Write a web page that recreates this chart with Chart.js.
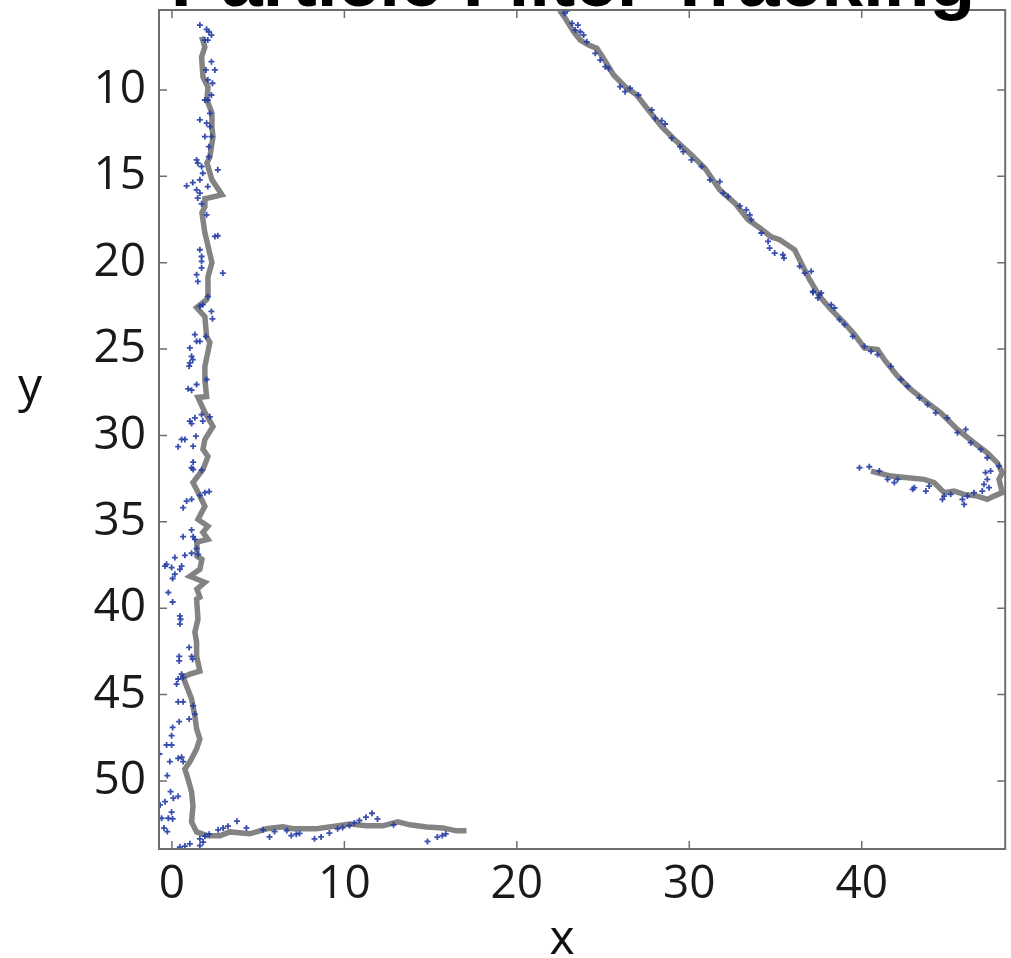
<!DOCTYPE html>
<html>
<head>
<meta charset="utf-8">
<script src="https://cdn.jsdelivr.net/npm/chart.js@4.4.1/dist/chart.umd.min.js"></script>
<style>
  body { margin: 0; background: #fff; }
  #wrap { width: 1011px; height: 958px; position: relative; }
</style>
</head>
<body>
<div id="wrap"><canvas id="myChart"></canvas></div>
<script>
// tick labels
const xTicks = [0, 10, 20, 30, 40];
const yTicks = [10, 15, 20, 25, 30, 35, 40, 45, 50];

// estimated track, left "L" shape
const leftTrackX = [1.72, 1.91, 1.72, 1.80, 2.09, 2.03, 2.32, 2.32, 2.38, 2.20, 2.03, 2.32, 2.90, 1.91, 1.91, 1.74, 1.91, 2.32, 2.09, 2.09,
  2.01, 1.43, 1.91, 2.01, 2.20, 1.91, 1.91, 2.01, 1.51, 1.91, 2.38, 1.91, 1.80, 2.09, 1.80, 1.22, 1.51, 1.91, 1.51, 2.09,
  1.80, 2.09, 1.45, 1.45, 1.74, 1.62, 1.04, 1.91, 1.45, 1.62,
  1.43, 1.51, 1.33, 1.43, 1.43, 1.62, 1.04, 0.64, 0.85, 1.14, 1.33, 1.43, 1.62, 1.43, 1.04, 0.75, 0.93, 1.14, 1.22, 1.14,
  1.43, 2.09, 2.78, 3.36, 4.52, 5.49, 6.43, 7.01, 8.39, 9.55, 10.32, 11.29, 12.23, 13.10, 13.80, 14.77, 15.71, 16.50, 17.08];
const leftTrackY = [6.92, 7.51, 8.09, 9.25, 9.83, 10.58, 11.33, 12.14, 12.72, 13.87, 14.22, 15.20, 16.07, 16.30, 16.76, 17.11, 18.27, 20.0, 20.81, 21.97,
  22.14, 22.60, 23.12, 24.28, 24.62, 26.01, 26.76, 27.75, 27.80, 28.67, 29.48, 30.23, 30.81, 31.21, 31.97, 32.72, 33.29, 34.10, 34.86, 35.26,
  35.61, 36.01, 36.18, 36.99, 37.17, 37.75, 38.15, 38.50, 38.90, 39.36,
  39.48, 40.64, 41.39, 41.97, 42.77, 43.64, 43.82, 43.99, 44.51, 45.26, 46.24, 46.99, 47.57, 48.15, 48.90, 49.31, 49.88, 50.64, 51.45, 52.37,
  52.95, 53.18, 53.18, 52.95, 53.06, 52.77, 52.66, 52.77, 52.77, 52.60, 52.49, 52.60, 52.60, 52.37, 52.54, 52.66, 52.72, 52.89, 52.89];

// estimated track, diagonal + return
const diagTrackX = [22.47, 22.82, 23.29, 23.68, 24.16, 24.64, 25.03, 25.61, 26.28, 26.95, 27.63, 28.40, 29.17, 30.13, 30.91, 31.77, 32.64, 33.41, 34.09, 34.76,
  35.24, 36.11, 36.49, 36.98, 37.56, 38.23, 39.00, 39.58, 40.16, 40.92, 41.31, 42.08, 42.85, 43.82, 44.58, 45.55, 46.51, 47.28, 47.86, 48.15,
  47.96, 48.15, 47.67, 47.28, 46.71, 45.94, 45.36, 44.78, 44.20, 43.62, 42.66, 41.69, 40.92, 40.54];
const diagTrackY = [5.38, 5.86, 6.63, 7.11, 7.40, 7.59, 8.17, 9.13, 9.81, 10.29, 11.16, 12.12, 12.89, 13.76, 14.53, 15.78, 16.55, 17.51, 17.99, 18.51,
  18.67, 19.25, 20.02, 20.98, 21.95, 22.72, 23.49, 24.16, 24.93, 25.03, 25.61, 26.57, 27.34, 28.11, 28.69, 29.65, 30.42, 31.00, 31.58, 32.16,
  32.54, 33.31, 33.51, 33.70, 33.51, 33.41, 33.22, 33.31, 32.73, 32.54, 32.45, 32.35, 32.16, 32.06];

// particles / measurements near the left track
const leftPartX = [1.62, 2.01, 2.14, 2.29, 2.08, 1.91, 2.29, 2.49, 1.97, 2.08, 2.35, 2.29, 1.91, 2.08, 2.20, 1.62, 2.01, 2.20, 1.91, 2.29,
  2.14, 2.14, 1.43, 1.50, 1.72, 2.66, 1.79, 1.62, 1.21, 0.85, 2.08, 1.43, 1.62, 1.50, 1.72, 2.01, 2.49, 2.66, 1.62, 1.72,
  1.72, 1.72, 2.95, 1.43, 1.50, 2.08,
  1.62, 1.79, 2.29, 2.35, 1.33, 1.43, 1.62, 1.97, 1.04, 1.14, 1.21, 1.04, 1.00, 2.01, 1.43, 0.94, 1.14, 2.20, 1.72, 1.33,
  1.04, 1.14, 1.79, 1.39, 0.56, 0.75, 0.36, 1.23, 1.23, 1.14, 1.23, 1.72, 1.91, 2.16, 1.62, 0.85, 1.14, 0.65, 1.14, 0.65,
  1.23, 1.33, 1.43, 1.14, 0.75, 1.52, 0.17, -0.31, -0.40, -0.02, 0.56, 0.46, 0.17, 0.04, -0.21,
  0.04, 0.46, 0.50, 0.46, 1.00, 1.14, 1.20, 0.42, 0.42, 0.56, 0.36, 0.27, 0.65, 1.23, 0.36, 0.65, 1.33, 1.00, 0.42, 0.04,
  -0.02, -0.31, -0.02, -0.73, -0.12, 0.36, 0.56, 0.65, -0.27, -0.08, 0.08, 0.36, -0.69, -0.40, -0.02, -0.60, -0.21, 0.04, -0.46, -0.27,
  0.46, 0.75, 1.04, 1.62, 1.81, 1.62, 1.91, 2.16, 2.68, 2.97, 3.25, 3.77, 4.32, 5.28, 5.66, 5.95, 6.66, 6.92, 7.21, 7.40,
  8.27, 8.65, 9.13, 9.61, 9.90, 10.29, 10.58, 10.87, 11.25, 11.60, 11.92, 12.85, 14.82, 15.39, 15.68, 15.88];
const leftPartY = [6.24, 6.49, 6.63, 6.82, 7.11, 7.11, 8.36, 8.84, 8.84, 9.42, 9.61, 10.29, 10.58, 10.58, 11.35, 11.73, 11.92, 12.12, 12.70, 12.70,
  13.28, 13.86, 14.05, 14.24, 14.43, 14.62, 14.82, 15.20, 15.36, 15.55, 15.59, 15.78, 15.97, 16.26, 16.59, 17.23, 18.48, 18.44, 19.25, 19.64,
  19.92, 20.30, 20.60, 20.69, 21.08, 21.95,
  22.53, 22.43, 22.82, 23.25, 24.16, 24.55, 24.55, 24.26, 24.93, 25.42, 25.61, 25.80, 25.99, 26.76, 27.05, 27.30, 27.38, 28.92, 28.79, 28.98,
  29.17, 29.31, 29.17, 30.04, 30.23, 30.23, 30.65, 30.62, 31.54, 31.87, 31.97, 32.01, 33.31, 33.25, 33.47, 33.80, 33.70, 34.18, 35.47, 35.86,
  35.86, 36.01, 36.55, 36.82, 36.94, 36.88, 37.07, 37.46, 37.56, 37.65, 37.56, 37.75, 38.03, 38.28, 39.09,
  39.64, 40.45, 40.64, 40.92, 42.27, 42.79, 42.95, 42.79, 43.05, 43.82, 44.10, 44.39, 44.01, 45.65, 45.42, 45.42, 46.13, 46.42, 46.57, 46.90,
  47.38, 47.92, 47.92, 48.44, 48.88, 48.69, 48.63, 48.88, 49.69, 50.62, 51.0, 50.89, 51.39, 51.20, 51.81, 52.16, 52.16, 52.20, 52.73, 52.93,
  53.83, 53.77, 53.64, 53.74, 53.54, 53.35, 53.20, 53.08, 52.83, 52.73, 52.62, 52.33, 52.72, 52.83, 53.24, 52.93, 52.87, 53.16, 53.08, 53.04,
  53.35, 53.24, 53.02, 52.77, 52.70, 52.58, 52.43, 52.29, 52.10, 51.87, 52.20, 52.54, 53.50, 53.25, 53.16, 53.06];

// particles / measurements near the diagonal track
const diagPartX = [22.72, 22.91, 22.77, 23.20, 23.54, 23.39, 23.68, 23.87, 24.06, 24.55, 24.84, 25.13, 25.32, 25.99, 26.28, 26.57, 27.05, 27.82, 28.02, 28.40,
  28.60, 28.98, 29.46, 29.65, 30.13, 30.71, 31.20, 31.77, 31.97, 32.25, 32.93, 33.31, 33.51, 33.60, 34.18, 34.57, 34.66, 34.95, 35.43, 35.49,
  36.40, 36.69, 37.07, 37.17, 37.56,
  37.17, 37.65, 37.46, 38.23, 38.42, 38.71, 39.00, 39.48, 40.16, 40.54, 40.92, 41.69, 42.27, 42.66, 43.34, 43.82, 44.29, 44.97, 45.55, 46.03,
  46.32, 46.90, 47.28, 47.96, 47.47, 47.18, 47.28, 47.09, 47.38, 46.99, 46.51, 46.13, 45.84, 45.94, 45.16, 44.78, 44.68, 43.91, 43.72, 43.05,
  42.95, 42.08, 41.89, 41.50, 41.02, 40.44, 39.87];
const diagPartY = [5.38, 5.42, 5.57, 6.14, 6.24, 6.53, 6.63, 6.82, 7.21, 7.88, 8.27, 8.65, 8.75, 9.81, 10.10, 9.90, 10.29, 11.16, 11.64, 11.77,
  11.97, 12.79, 13.28, 13.57, 14.05, 14.43, 15.20, 15.30, 15.97, 16.17, 16.71, 16.94, 17.23, 17.51, 18.28, 18.77, 19.15, 19.44, 19.54, 19.73,
  20.21, 20.60, 20.50, 21.66, 21.85,
  21.72, 21.75, 22.04, 22.43, 22.62, 23.29, 23.58, 24.26, 24.84, 25.13, 25.32, 26.0, 26.76, 27.15, 27.82, 28.21, 28.69, 28.98, 29.84, 29.65,
  30.42, 30.81, 31.29, 31.77, 32.06, 32.15, 32.54, 32.83, 33.02, 33.22, 33.31, 33.51, 33.70, 33.99, 33.41, 33.51, 33.70, 32.93, 33.22, 33.02,
  33.12, 32.54, 32.73, 32.54, 32.06, 31.81, 31.87];

function pts(xs, ys) {
  return xs.map((x, i) => ({ x: x, y: ys[i] }));
}

const tickFont = { family: '"Open Sans", "Noto Sans", sans-serif', size: 46 };
const frameColor = '#6e6e6e';

// box frame with inward ticks, axis labels and the (cropped) title
const decorations = {
  id: 'decorations',
  afterDraw(chart) {
    const ctx = chart.ctx;
    const a = chart.chartArea;
    const xs = chart.scales.x, ys = chart.scales.y;
    ctx.save();
    ctx.strokeStyle = frameColor;
    ctx.lineWidth = 1.5;
    ctx.beginPath();
    xTicks.forEach(v => {
      const p = xs.getPixelForValue(v);
      ctx.moveTo(p, a.bottom); ctx.lineTo(p, a.bottom - 8);
      ctx.moveTo(p, a.top); ctx.lineTo(p, a.top + 8);
    });
    yTicks.forEach(v => {
      const p = ys.getPixelForValue(v);
      ctx.moveTo(a.left, p); ctx.lineTo(a.left + 8, p);
      ctx.moveTo(a.right, p); ctx.lineTo(a.right - 8, p);
    });
    ctx.stroke();
    ctx.lineWidth = 2;
    ctx.strokeRect(a.left, a.top, a.right - a.left, a.bottom - a.top);

    ctx.fillStyle = '#111';
    ctx.font = '48px "Open Sans", "Noto Sans", sans-serif';
    ctx.textAlign = 'center';
    ctx.textBaseline = 'alphabetic';
    ctx.fillText('x', (a.left + a.right) / 2 - 20, 954);
    ctx.fillText('y', 30, 402);

    ctx.fillStyle = '#000';
    ctx.font = 'bold 75px "Liberation Sans", Arial, sans-serif';
    ctx.fillText('Particle Filter Tracking', (a.left + a.right) / 2 - 9, a.top - 4);
    ctx.restore();
  }
};

const ctx = document.getElementById('myChart').getContext('2d');
const myChart = new Chart(ctx, {
  type: 'scatter',
  data: {
    datasets: [
      {
        label: 'track',
        data: pts(leftTrackX, leftTrackY),
        showLine: true,
        borderColor: '#838383',
        borderWidth: 5.5,
        pointRadius: 0,
        order: 2
      },
      {
        label: 'track 2',
        data: pts(diagTrackX, diagTrackY),
        showLine: true,
        borderColor: '#838383',
        borderWidth: 5.5,
        pointRadius: 0,
        order: 2
      },
      {
        label: 'particles',
        data: pts(leftPartX, leftPartY),
        pointStyle: 'cross',
        pointRadius: 3,
        borderWidth: 1.8,
        borderColor: 'rgba(35,60,165,0.9)',
        order: 1
      },
      {
        label: 'particles 2',
        data: pts(diagPartX, diagPartY),
        pointStyle: 'cross',
        pointRadius: 3,
        borderWidth: 1.8,
        borderColor: 'rgba(35,60,165,0.9)',
        order: 1
      }
    ]
  },
  options: {
    responsive: true,
    maintainAspectRatio: false,
    devicePixelRatio: 1,
    animation: false,
    layout: { padding: { top: 10, right: 3, left: 0, bottom: 0 } },
    plugins: {
      legend: { display: false },
      tooltip: { enabled: false }
    },
    scales: {
      x: {
        type: 'linear',
        min: -0.75,
        max: 48.32,
        afterBuildTicks: s => { s.ticks = xTicks.map(v => ({ value: v })); },
        afterFit: s => { s.height = 109; s.paddingLeft = 0; s.paddingRight = 0; },
        grid: { display: false, drawTicks: false },
        border: { display: false },
        ticks: { font: tickFont, color: '#1a1a1a', padding: 8, maxRotation: 0 }
      },
      y: {
        type: 'linear',
        reverse: true,
        min: 5.37,
        max: 53.94,
        afterBuildTicks: s => { s.ticks = yTicks.map(v => ({ value: v })); },
        afterFit: s => { s.width = 159; s.paddingTop = 0; s.paddingBottom = 0; },
        grid: { display: false, drawTicks: false },
        border: { display: false },
        ticks: { font: tickFont, color: '#1a1a1a', padding: 13 }
      }
    }
  },
  plugins: [decorations]
});
</script>
</body>
</html>
